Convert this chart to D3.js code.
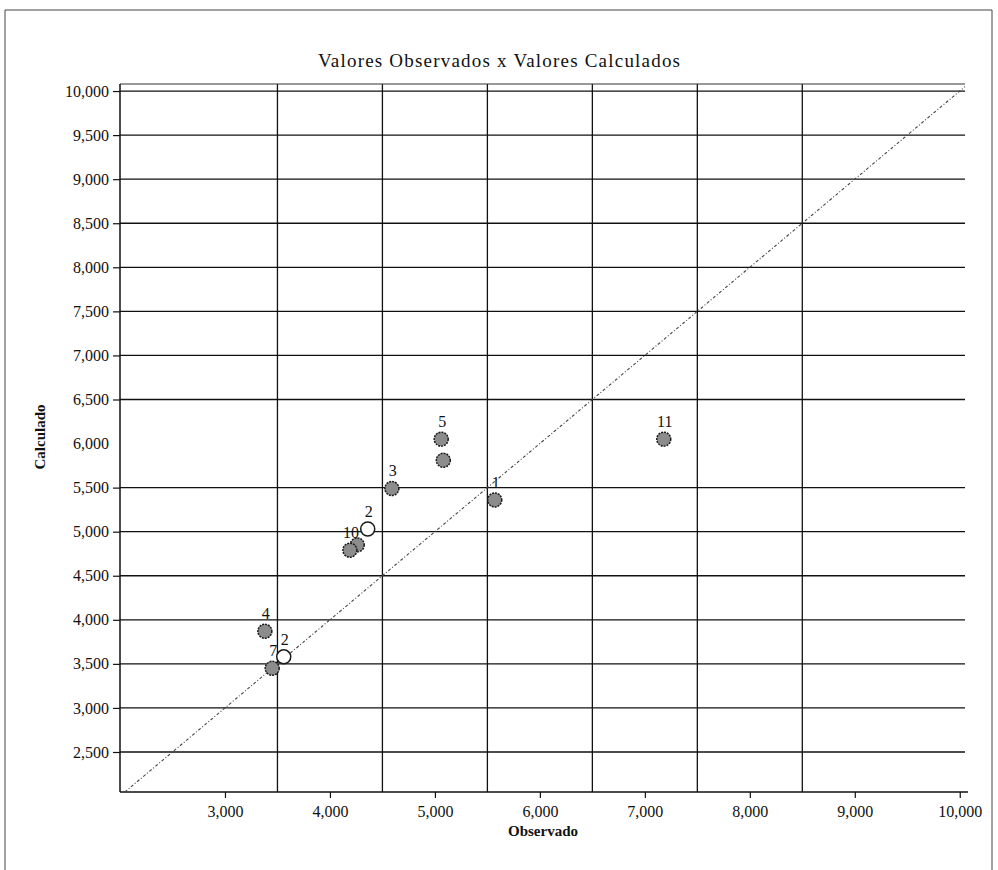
<!DOCTYPE html>
<html>
<head>
<meta charset="utf-8">
<script src="https://cdn.jsdelivr.net/npm/d3@7"></script>
<style>
  body { margin: 0; background: #fff; }
  text { font-family: "Liberation Serif", "Times New Roman", serif; fill: #111; }
</style>
</head>
<body>
<div id="chart"></div>
<script>
// Case data
const caseLabels = ['1', '2', '3', '4', '5', '', '7', '', '2', '10', '11'];
const observado = [5.57, 4.36, 4.59, 3.38, 5.06, 5.08, 3.45, 4.26, 3.56, 4.19, 7.18];
const calculado = [5.36, 5.03, 5.49, 3.87, 6.05, 5.81, 3.45, 4.85, 3.58, 4.79, 6.05];
const hollowCases = [1, 8]; // index of the open (white) markers

const xTicks = [3, 4, 5, 6, 7, 8, 9, 10];
const xGrid = [3.5, 4.5, 5.5, 6.5, 7.5, 8.5];
const yTicks = [2.5, 3, 3.5, 4, 4.5, 5, 5.5, 6, 6.5, 7, 7.5, 8, 8.5, 9, 9.5, 10];
const yGrid = [2.5, 3, 3.5, 4, 4.5, 5, 5.5, 6.5, 7, 7.5, 8, 8.5, 9, 9.5, 10];

const W = 998, H = 870;
const plot = { left: 120, right: 965, top: 84, bottom: 792 };

const fmt = v => d3.format('.3f')(v).replace('.', ',');

const svg = d3.select('#chart').append('svg')
    .attr('width', W)
    .attr('height', H);

// outer frame (open at the bottom)
svg.append('path')
    .attr('d', `M5,870 L5,10 L992,10 L992,870`)
    .attr('fill', 'none')
    .attr('stroke', '#444')
    .attr('stroke-width', 1);

const x = d3.scaleLinear().domain([2.0, 10.05]).range([plot.left, plot.right]);
const y = d3.scaleLinear().domain([2.046, 10.08]).range([plot.bottom, plot.top]);

// horizontal grid
svg.append('g')
    .selectAll('line')
    .data(yGrid)
    .enter()
    .append('line')
    .attr('x1', plot.left)
    .attr('x2', plot.right)
    .attr('y1', d => y(d))
    .attr('y2', d => y(d))
    .attr('stroke', '#111')
    .attr('stroke-width', 1.3);

// vertical grid
svg.append('g')
    .selectAll('line')
    .data(xGrid)
    .enter()
    .append('line')
    .attr('x1', d => x(d))
    .attr('x2', d => x(d))
    .attr('y1', plot.top)
    .attr('y2', plot.bottom)
    .attr('stroke', '#111')
    .attr('stroke-width', 1.3);

// top border of plot
svg.append('line')
    .attr('x1', plot.left).attr('x2', plot.right)
    .attr('y1', plot.top).attr('y2', plot.top)
    .attr('stroke', '#333').attr('stroke-width', 1);

// Y axis
const yAxisG = svg.append('g')
    .attr('transform', `translate(${plot.left},0)`)
    .call(d3.axisLeft(y).tickValues(yTicks).tickSize(7).tickPadding(4).tickFormat(fmt));
yAxisG.select('.domain').attr('stroke', '#111').attr('stroke-width', 1.5)
    .attr('d', `M0,${plot.top}V${plot.bottom}`);
yAxisG.selectAll('.tick line').attr('stroke', '#111').attr('stroke-width', 1.2)
    .filter(d => d === 6).remove();
yAxisG.selectAll('text')
    .style('font-family', '"Liberation Serif", serif')
    .style('font-size', '16px')
    .attr('fill', '#111');

// X axis
const xAxisG = svg.append('g')
    .attr('transform', `translate(0,${plot.bottom})`)
    .call(d3.axisBottom(x).tickValues(xTicks).tickSize(6).tickPadding(8).tickFormat(fmt));
xAxisG.select('.domain').attr('stroke', '#111').attr('stroke-width', 1.5)
    .attr('d', `M${plot.left},0H${plot.right + 3}`);
xAxisG.selectAll('.tick line').attr('stroke', '#111').attr('stroke-width', 1.2);
xAxisG.selectAll('text')
    .style('font-family', '"Liberation Serif", serif')
    .style('font-size', '16px')
    .attr('fill', '#111');

// identity line
const lo = Math.max(x.domain()[0], y.domain()[0]);
const hi = Math.min(x.domain()[1], y.domain()[1]);
svg.append('line')
    .attr('x1', x(lo)).attr('y1', y(lo))
    .attr('x2', x(hi)).attr('y2', y(hi))
    .attr('stroke', '#444')
    .attr('stroke-width', 1.1)
    .attr('stroke-dasharray', '3,2,1,2');

// points
const data = observado.map((o, i) => ({ o, c: calculado[i], label: caseLabels[i], hollow: hollowCases.includes(i) }));

svg.selectAll('.pt')
    .data(data)
    .enter()
    .append('circle')
    .attr('class', 'pt')
    .attr('cx', d => x(d.o))
    .attr('cy', d => y(d.c))
    .attr('r', 7)
    .attr('fill', d => d.hollow ? '#fff' : '#8c8c8c')
    .attr('stroke', '#1a1a1a')
    .attr('stroke-width', 1.5)
    .attr('stroke-dasharray', d => d.hollow ? null : '2,1');

svg.selectAll('.pt-label')
    .data(data.filter(d => d.label !== ''))
    .enter()
    .append('text')
    .attr('class', 'pt-label')
    .attr('x', d => x(d.o) + 1)
    .attr('y', d => y(d.c) - 12)
    .attr('text-anchor', 'middle')
    .style('font-size', '16px')
    .text(d => d.label);

// title
svg.append('text')
    .attr('x', 499)
    .attr('y', 67)
    .attr('text-anchor', 'middle')
    .attr('textLength', 362)
    .attr('lengthAdjust', 'spacing')
    .style('font-size', '19px')
    .text('Valores Observados x Valores Calculados');

// axis titles
svg.append('text')
    .attr('x', 543)
    .attr('y', 836)
    .attr('text-anchor', 'middle')
    .style('font-size', '15px')
    .style('font-weight', 'bold')
    .text('Observado');

svg.append('text')
    .attr('transform', 'rotate(-90)')
    .attr('x', -437)
    .attr('y', 45)
    .attr('text-anchor', 'middle')
    .style('font-size', '15px')
    .style('font-weight', 'bold')
    .text('Calculado');
</script>
</body>
</html>
